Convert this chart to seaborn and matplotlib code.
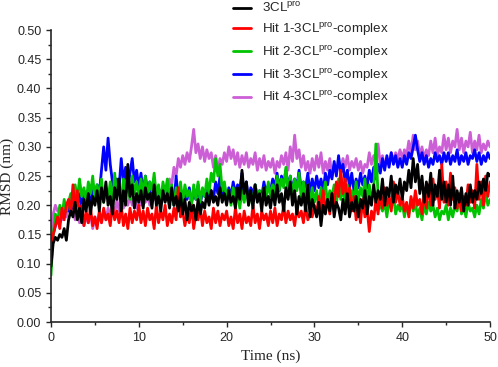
import numpy as np
import pandas as pd
import seaborn as sns
import matplotlib.pyplot as plt
from matplotlib.ticker import MultipleLocator

# --- Data (RMSD in nm, every 0.25 ns) ---
time_ns = np.arange(0, 50.001, 0.25)

rmsd_3cl = [
    0.095, 0.135, 0.145, 0.14, 0.15, 0.145, 0.16, 0.14, 0.175, 0.19, 0.18, 0.205, 0.175, 0.195, 0.17, 0.21, 0.19, 0.22, 0.185, 0.215,
    0.2, 0.225, 0.19, 0.23, 0.205, 0.24, 0.2, 0.215, 0.185, 0.23, 0.21, 0.245, 0.19, 0.225, 0.2, 0.27, 0.215, 0.235, 0.195, 0.22,
    0.205, 0.225, 0.195, 0.23, 0.21, 0.22, 0.195, 0.235, 0.2, 0.215, 0.19, 0.225, 0.205, 0.22, 0.195, 0.23, 0.2, 0.215, 0.19, 0.22,
    0.185, 0.21, 0.175, 0.205, 0.19, 0.2, 0.175, 0.21, 0.185, 0.205, 0.195, 0.22, 0.2, 0.225, 0.205, 0.215, 0.2, 0.23, 0.205, 0.22,
    0.2, 0.225, 0.205, 0.215, 0.195, 0.23, 0.21, 0.26, 0.22, 0.24, 0.2, 0.225, 0.195, 0.235, 0.205, 0.22, 0.19, 0.23, 0.2, 0.215,
    0.195, 0.225, 0.2, 0.235, 0.205, 0.22, 0.19, 0.23, 0.21, 0.24, 0.2, 0.225, 0.185, 0.215, 0.2, 0.22, 0.19, 0.235, 0.18, 0.21,
    0.195, 0.18, 0.205, 0.165, 0.2, 0.185, 0.21, 0.19, 0.22, 0.18, 0.205, 0.195, 0.175, 0.21, 0.185, 0.22, 0.18, 0.205, 0.19, 0.215,
    0.18, 0.21, 0.195, 0.225, 0.185, 0.215, 0.2, 0.235, 0.205, 0.225, 0.21, 0.245, 0.2, 0.23, 0.215, 0.25, 0.205, 0.235, 0.22, 0.245,
    0.21, 0.24, 0.225, 0.26, 0.23, 0.28, 0.24, 0.27, 0.22, 0.25, 0.205, 0.24, 0.215, 0.255, 0.2, 0.235, 0.215, 0.26, 0.21, 0.24,
    0.205, 0.235, 0.2, 0.25, 0.195, 0.225, 0.205, 0.23, 0.19, 0.22, 0.2, 0.235, 0.205, 0.225, 0.21, 0.24, 0.22, 0.245, 0.225, 0.255,
    0.25,
]

rmsd_hit1 = [
    0.12, 0.15, 0.165, 0.18, 0.16, 0.195, 0.175, 0.2, 0.21, 0.185, 0.235, 0.19, 0.225, 0.18, 0.2, 0.165, 0.19, 0.17, 0.195, 0.165,
    0.18, 0.16, 0.19, 0.17, 0.195, 0.175, 0.185, 0.165, 0.2, 0.175, 0.19, 0.17, 0.2, 0.165, 0.185, 0.16, 0.195, 0.17, 0.19, 0.175,
    0.2, 0.17, 0.19, 0.165, 0.195, 0.175, 0.185, 0.16, 0.2, 0.17, 0.19, 0.175, 0.2, 0.165, 0.185, 0.17, 0.195, 0.175, 0.23, 0.18,
    0.19, 0.165, 0.185, 0.17, 0.2, 0.16, 0.185, 0.175, 0.195, 0.165, 0.19, 0.17, 0.18, 0.16, 0.195, 0.17, 0.19, 0.165, 0.185, 0.175,
    0.19, 0.165, 0.18, 0.16, 0.195, 0.17, 0.185, 0.16, 0.19, 0.17, 0.18, 0.165, 0.2, 0.17, 0.185, 0.16, 0.19, 0.175, 0.185, 0.165,
    0.19, 0.17, 0.195, 0.165, 0.185, 0.175, 0.2, 0.17, 0.19, 0.175, 0.185, 0.165, 0.195, 0.18, 0.19, 0.17, 0.2, 0.175, 0.185, 0.18,
    0.2, 0.185, 0.215, 0.19, 0.225, 0.195, 0.21, 0.185, 0.22, 0.2, 0.24, 0.215, 0.26, 0.22, 0.245, 0.2, 0.23, 0.19, 0.215, 0.175,
    0.2, 0.17, 0.21, 0.18, 0.195, 0.155, 0.19, 0.175, 0.21, 0.185, 0.22, 0.195, 0.23, 0.2, 0.215, 0.19, 0.24, 0.205, 0.225, 0.2,
    0.215, 0.19, 0.205, 0.18, 0.215, 0.195, 0.225, 0.2, 0.21, 0.185, 0.22, 0.195, 0.235, 0.2, 0.245, 0.21, 0.23, 0.195, 0.27, 0.205,
    0.24, 0.2, 0.255, 0.21, 0.23, 0.195, 0.22, 0.19, 0.215, 0.2, 0.235, 0.205, 0.225, 0.195, 0.27, 0.21, 0.24, 0.2, 0.25, 0.215,
    0.24,
]

rmsd_hit2 = [
    0.08, 0.15, 0.185, 0.17, 0.2, 0.18, 0.21, 0.19, 0.205, 0.22, 0.2, 0.235, 0.21, 0.245, 0.215, 0.23, 0.205, 0.24, 0.22, 0.25,
    0.21, 0.235, 0.215, 0.245, 0.205, 0.225, 0.21, 0.24, 0.2, 0.255, 0.215, 0.235, 0.205, 0.245, 0.22, 0.235, 0.21, 0.25, 0.22, 0.24,
    0.215, 0.245, 0.22, 0.25, 0.21, 0.24, 0.225, 0.255, 0.215, 0.235, 0.205, 0.24, 0.22, 0.245, 0.21, 0.235, 0.2, 0.23, 0.215, 0.24,
    0.205, 0.235, 0.215, 0.225, 0.2, 0.235, 0.21, 0.24, 0.205, 0.23, 0.215, 0.245, 0.22, 0.255, 0.24, 0.28, 0.25, 0.27, 0.225, 0.24,
    0.21, 0.225, 0.2, 0.23, 0.205, 0.22, 0.195, 0.225, 0.205, 0.23, 0.2, 0.22, 0.21, 0.235, 0.215, 0.225, 0.2, 0.23, 0.21, 0.24,
    0.215, 0.235, 0.22, 0.25, 0.225, 0.245, 0.23, 0.265, 0.22, 0.25, 0.215, 0.245, 0.225, 0.255, 0.21, 0.24, 0.215, 0.235, 0.2, 0.23,
    0.205, 0.225, 0.195, 0.23, 0.21, 0.24, 0.2, 0.225, 0.215, 0.235, 0.2, 0.245, 0.21, 0.23, 0.205, 0.235, 0.2, 0.225, 0.21, 0.24,
    0.205, 0.23, 0.215, 0.245, 0.2, 0.235, 0.21, 0.225, 0.305, 0.215, 0.2, 0.19, 0.205, 0.18, 0.21, 0.195, 0.215, 0.185, 0.2, 0.19,
    0.205, 0.18, 0.2, 0.185, 0.21, 0.19, 0.205, 0.18, 0.195, 0.175, 0.2, 0.185, 0.205, 0.19, 0.2, 0.18, 0.195, 0.175, 0.19, 0.185,
    0.2, 0.175, 0.195, 0.18, 0.2, 0.19, 0.21, 0.185, 0.2, 0.18, 0.205, 0.19, 0.195, 0.18, 0.2, 0.185, 0.21, 0.195, 0.22, 0.2,
    0.21,
]

rmsd_hit3 = [
    0.13, 0.15, 0.165, 0.175, 0.17, 0.185, 0.18, 0.2, 0.19, 0.21, 0.195, 0.215, 0.2, 0.22, 0.195, 0.225, 0.205, 0.22, 0.2, 0.23,
    0.21, 0.235, 0.22, 0.26, 0.3, 0.26, 0.315, 0.27, 0.24, 0.225, 0.245, 0.23, 0.28, 0.24, 0.265, 0.23, 0.255, 0.28, 0.24, 0.26,
    0.23, 0.255, 0.22, 0.25, 0.225, 0.24, 0.21, 0.235, 0.215, 0.23, 0.205, 0.225, 0.21, 0.23, 0.205, 0.22, 0.2, 0.25, 0.21, 0.225,
    0.2, 0.225, 0.21, 0.23, 0.205, 0.22, 0.21, 0.235, 0.2, 0.225, 0.215, 0.23, 0.205, 0.225, 0.21, 0.24, 0.22, 0.25, 0.215, 0.235,
    0.205, 0.23, 0.215, 0.24, 0.22, 0.235, 0.225, 0.255, 0.215, 0.24, 0.21, 0.23, 0.22, 0.235, 0.21, 0.225, 0.215, 0.24, 0.22, 0.235,
    0.225, 0.245, 0.23, 0.255, 0.225, 0.25, 0.235, 0.26, 0.23, 0.25, 0.225, 0.245, 0.23, 0.26, 0.225, 0.24, 0.23, 0.255, 0.22, 0.245,
    0.225, 0.25, 0.23, 0.245, 0.225, 0.255, 0.235, 0.26, 0.245, 0.275, 0.25, 0.285, 0.255, 0.27, 0.24, 0.26, 0.23, 0.255, 0.225, 0.245,
    0.23, 0.255, 0.235, 0.25, 0.23, 0.26, 0.24, 0.265, 0.245, 0.27, 0.255, 0.28, 0.26, 0.285, 0.265, 0.29, 0.27, 0.285, 0.265, 0.28,
    0.265, 0.285, 0.27, 0.29, 0.28, 0.3, 0.32, 0.295, 0.275, 0.29, 0.27, 0.285, 0.265, 0.28, 0.27, 0.29, 0.275, 0.285, 0.27, 0.29,
    0.275, 0.29, 0.27, 0.285, 0.275, 0.295, 0.27, 0.285, 0.275, 0.29, 0.27, 0.285, 0.28, 0.295, 0.275, 0.29, 0.27, 0.285, 0.275, 0.29,
    0.28,
]

rmsd_hit4 = [
    0.15, 0.185, 0.2, 0.19, 0.195, 0.175, 0.19, 0.18, 0.2, 0.185, 0.195, 0.175, 0.19, 0.17, 0.185, 0.165, 0.18, 0.17, 0.185, 0.16,
    0.18, 0.165, 0.185, 0.17, 0.19, 0.175, 0.195, 0.18, 0.2, 0.185, 0.21, 0.19, 0.205, 0.195, 0.21, 0.2, 0.215, 0.2, 0.21, 0.195,
    0.215, 0.2, 0.22, 0.205, 0.215, 0.2, 0.22, 0.21, 0.225, 0.21, 0.225, 0.215, 0.23, 0.22, 0.245, 0.235, 0.265, 0.25, 0.28, 0.265,
    0.285, 0.27, 0.29, 0.275, 0.3, 0.33, 0.29, 0.305, 0.28, 0.3, 0.275, 0.295, 0.28, 0.29, 0.265, 0.285, 0.26, 0.28, 0.27, 0.29,
    0.275, 0.3, 0.28, 0.295, 0.27, 0.29, 0.265, 0.285, 0.27, 0.29, 0.265, 0.28, 0.27, 0.29, 0.26, 0.28, 0.265, 0.285, 0.26, 0.275,
    0.265, 0.28, 0.255, 0.275, 0.265, 0.285, 0.27, 0.29, 0.26, 0.3, 0.275, 0.32, 0.28, 0.295, 0.265, 0.285, 0.26, 0.275, 0.255, 0.28,
    0.26, 0.285, 0.265, 0.29, 0.255, 0.275, 0.26, 0.28, 0.25, 0.27, 0.255, 0.275, 0.26, 0.28, 0.265, 0.285, 0.26, 0.275, 0.265, 0.28,
    0.26, 0.275, 0.255, 0.27, 0.265, 0.29, 0.27, 0.285, 0.275, 0.305, 0.27, 0.285, 0.265, 0.28, 0.27, 0.29, 0.275, 0.29, 0.28, 0.295,
    0.28, 0.295, 0.285, 0.31, 0.29, 0.32, 0.295, 0.31, 0.285, 0.3, 0.28, 0.295, 0.285, 0.31, 0.29, 0.315, 0.285, 0.3, 0.29, 0.32,
    0.295, 0.315, 0.29, 0.31, 0.3, 0.33, 0.295, 0.315, 0.29, 0.31, 0.3, 0.325, 0.29, 0.31, 0.295, 0.32, 0.29, 0.305, 0.295, 0.31,
    0.3,
]

labels = [
    r"3CL$^{\mathrm{pro}}$",
    r"Hit 1-3CL$^{\mathrm{pro}}$-complex",
    r"Hit 2-3CL$^{\mathrm{pro}}$-complex",
    r"Hit 3-3CL$^{\mathrm{pro}}$-complex",
    r"Hit 4-3CL$^{\mathrm{pro}}$-complex",
]
series = [rmsd_3cl, rmsd_hit1, rmsd_hit2, rmsd_hit3, rmsd_hit4]
colors = ["black", "#ff0000", "#00c400", "#0000ff", "#cc5fd6"]

# --- Style ---
sns.set_style("ticks")
plt.rcParams["font.family"] = ["Liberation Sans", "DejaVu Sans"]
plt.rcParams["mathtext.fontset"] = "custom"
plt.rcParams["mathtext.rm"] = "Liberation Sans"
plt.rcParams["xtick.direction"] = "out"
plt.rcParams["ytick.direction"] = "out"

fig = plt.figure(figsize=(4.98, 3.67), dpi=100)
ax = fig.add_axes([0.1024, 0.1226, 0.8816, 0.7954])

# draw last series first so the black trace ends up on top
for vals, lab, col in reversed(list(zip(series, labels, colors))):
    df = pd.DataFrame({"Time": time_ns, "RMSD": vals})
    sns.lineplot(data=df, x="Time", y="RMSD", color=col, label=lab, lw=1.0, ax=ax)

ax.set_xlim(0, 50)
ax.set_ylim(0, 0.5)
ax.xaxis.set_major_locator(MultipleLocator(10))
ax.xaxis.set_minor_locator(MultipleLocator(5))
ax.yaxis.set_major_locator(MultipleLocator(0.05))
ax.yaxis.set_minor_locator(MultipleLocator(0.025))
ax.yaxis.set_major_formatter(plt.FormatStrFormatter("%.2f"))
ax.tick_params(which="major", length=3.5, width=1.0, labelsize=9)
ax.tick_params(which="minor", length=2, width=1.0)
for s in ["top", "right"]:
    ax.spines[s].set_visible(False)
for s in ["left", "bottom"]:
    ax.spines[s].set_linewidth(1.2)

ax.set_xlabel("Time (ns)", family="Liberation Serif", fontsize=11)
ax.set_ylabel("RMSD (nm)", family="Liberation Serif", fontsize=11, labelpad=2)

handles, labs = ax.get_legend_handles_labels()
handles, labs = handles[::-1], labs[::-1]
for h in handles:
    h.set_linewidth(2.0)
ax.legend(handles, labs, loc="upper left", bbox_to_anchor=(0.466, 1.0), bbox_transform=fig.transFigure,
          frameon=False, fontsize=9.6, handlelength=1.4, handletextpad=0.8, labelspacing=0.40,
          borderaxespad=0.0, borderpad=0.05)

plt.savefig("out.png", dpi=100)
